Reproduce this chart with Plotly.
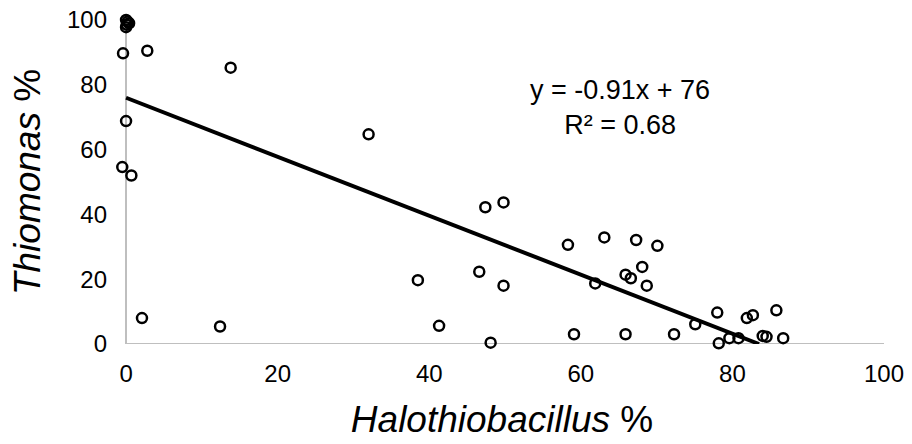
import plotly.graph_objects as go

# Halothiobacillus % (x) and Thiomonas % (y)
halo = [0.0, 0.2, 0.4, 0.1, 0.0,
        -0.4, 2.8, 13.8, 0.0, -0.5, 0.7, 2.1, 12.4, 32.0,
        47.4, 49.8, 58.3, 63.1, 38.5, 46.6, 49.8, 61.9, 41.3, 48.1, 59.1,
        67.3, 70.1, 68.1, 65.9, 66.6, 68.7, 65.9, 72.3, 75.1, 78.0, 78.2,
        79.6, 80.8, 81.9, 82.7, 85.8, 84.0, 84.5, 86.7]
thio = [100.0, 99.5, 99.0, 98.5, 97.8,
        89.7, 90.5, 85.3, 68.8, 54.6, 52.0, 8.0, 5.4, 64.7,
        42.2, 43.7, 30.6, 32.9, 19.7, 22.3, 18.0, 18.7, 5.6, 0.4, 3.0,
        32.1, 30.3, 23.8, 21.4, 20.3, 18.0, 3.0, 3.0, 6.1, 9.7, 0.2,
        1.8, 1.8, 8.0, 8.9, 10.4, 2.5, 2.2, 1.8]

# Linear trendline as printed on the chart
trend_slope = -0.91
trend_intercept = 76
r_squared = 0.68

tick_vals = [0, 20, 40, 60, 80, 100]

x_end = -trend_intercept / trend_slope  # trendline is clipped at y = 0
trend_x = [0, x_end]
trend_y = [trend_intercept + trend_slope * v for v in trend_x]

FONT = "Liberation Sans, Arial, Helvetica, sans-serif"
AXIS_GREY = "#bfbfbf"

fig = go.Figure()
fig.add_trace(go.Scatter(
    x=halo, y=thio, mode="markers", cliponaxis=False,
    marker=dict(symbol="circle-open", size=10, color="black",
                line=dict(width=2.5, color="black")),
    showlegend=False,
))
fig.add_trace(go.Scatter(
    x=trend_x, y=trend_y, mode="lines", cliponaxis=False,
    line=dict(color="black", width=4), showlegend=False,
))

fig.add_annotation(
    x=0.655, y=0.73, xref="paper", yref="paper", yanchor="middle",
    text=f"y = {trend_slope}x + {trend_intercept}<br>R² = {r_squared}",
    showarrow=False, align="center",
    font=dict(family=FONT, size=27, color="black"),
)

# bottom axis line from x=0 to x=100
fig.add_shape(type="line", xref="x", yref="y", x0=0, x1=100, y0=0, y1=0,
              line=dict(color=AXIS_GREY, width=2), layer="below")

tickfont = dict(family=FONT, size=24, color="black")

fig.update_layout(
    width=912, height=444,
    margin=dict(l=120, r=28, t=20, b=100),
    paper_bgcolor="white", plot_bgcolor="white",
    xaxis=dict(range=[-0.8, 100], tickvals=tick_vals, showgrid=False,
               zeroline=True, zerolinecolor=AXIS_GREY, zerolinewidth=2,
               showline=False, ticks="", tickfont=tickfont,
               ticklabelstandoff=13, automargin=False,
               title=dict(text="<i>Halothiobacillus</i> %", standoff=20,
                          font=dict(family=FONT, size=37, color="black"))),
    yaxis=dict(range=[0, 100], tickvals=tick_vals, showgrid=False,
               zeroline=False, showline=False, ticks="", tickfont=tickfont,
               ticklabelstandoff=12, automargin=False,
               title=dict(text="<i>Thiomonas</i> %", standoff=15,
                          font=dict(family=FONT, size=37, color="black"))),
)

fig.write_html("out.html")
